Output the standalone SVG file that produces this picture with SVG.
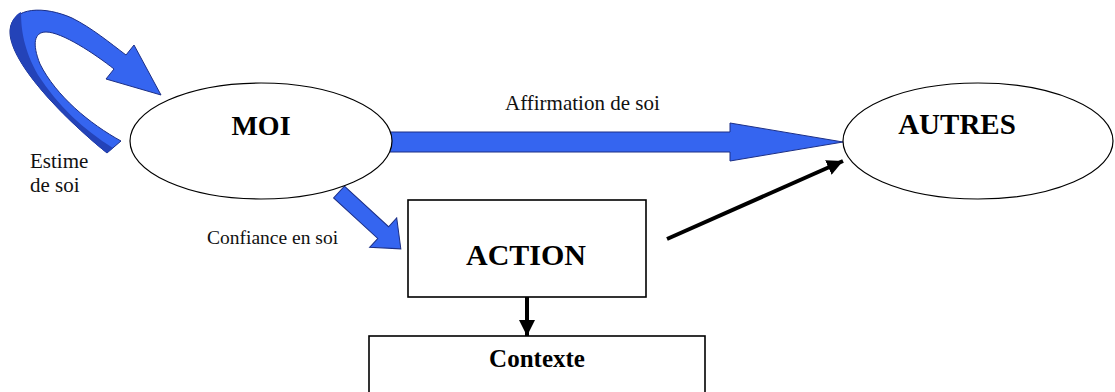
<svg xmlns="http://www.w3.org/2000/svg" width="1115" height="392" viewBox="0 0 1115 392">
<style>
.ell{fill:#fff;stroke:#000;stroke-width:1.2}
.box{fill:#fff;stroke:#000;stroke-width:1.6}
.blue{fill:#3565f0;stroke:#1c2f86;stroke-width:1}
.title{font-family:"Liberation Serif",serif;font-weight:bold;fill:#000;text-anchor:middle}
.lbl{font-family:"Liberation Serif",serif;fill:#111}
.blk{stroke:#000;stroke-width:4;fill:none}
</style>
<defs>
<marker id="ah" markerUnits="userSpaceOnUse" markerWidth="18" markerHeight="16" refX="16" refY="8" orient="auto">
<path d="M0,0 L16,8 L0,16 Z" fill="#000"/>
</marker>
</defs>
<rect width="1115" height="392" fill="#fff"/>
<g id="connectors">
<path class="blue" d="M107,153 C60,115 8,60 10,30 C12,6 45,6 72,18 C92,28 110,43 126,55 L134,45 L161,95 L106,79 L114,69 C95,54 62,32 46,32 C34,32 32,44 40,64 C56,96 90,124 121,141 Z"/>
<path d="M107,153 C60,115 8,60 10,30 C11,21 15,15 21,12 C21,30 24,50 38,75 C58,106 84,130 113,148 Z" fill="#2443b8" stroke="none"/>
<path class="blue" d="M387,132 L730,132 L730,123 L843,142 L730,161 L730,152 L387,152 Z"/>
<path class="blue" transform="translate(339,192) rotate(42.6)" d="M0,-8 L60,-8 L60,-20 L84,0 L60,20 L60,8 L0,8 Z"/>
<line class="blk" x1="667" y1="239" x2="843" y2="161" marker-end="url(#ah)"/>
<line class="blk" x1="527" y1="297" x2="527" y2="336" marker-end="url(#ah)"/>
</g>
<g id="moi">
<ellipse class="ell" cx="261" cy="141" rx="131" ry="58"/>
<text class="title" x="261" y="135" font-size="28">MOI</text>
</g>
<g id="autres">
<ellipse class="ell" cx="978" cy="141" rx="135" ry="58"/>
<text class="title" x="957" y="134" font-size="29">AUTRES</text>
</g>
<g id="action">
<rect class="box" x="408" y="200" width="238" height="97"/>
<text class="title" x="526" y="265" font-size="30">ACTION</text>
</g>
<g id="contexte">
<rect class="box" x="369" y="336" width="336" height="70"/>
<text class="title" x="537" y="367" font-size="25">Contexte</text>
</g>
<g id="labels">
<text class="lbl" font-family="Liberation Serif, serif" x="30" y="168" font-size="21">Estime</text>
<text class="lbl" font-family="Liberation Serif, serif" x="30" y="192" font-size="21">de soi</text>
<text class="lbl" font-family="Liberation Serif, serif" x="505" y="110" font-size="21">Affirmation de soi</text>
<text class="lbl" font-family="Liberation Serif, serif" x="207" y="244" font-size="19.5">Confiance en soi</text>
</g>
</svg>
